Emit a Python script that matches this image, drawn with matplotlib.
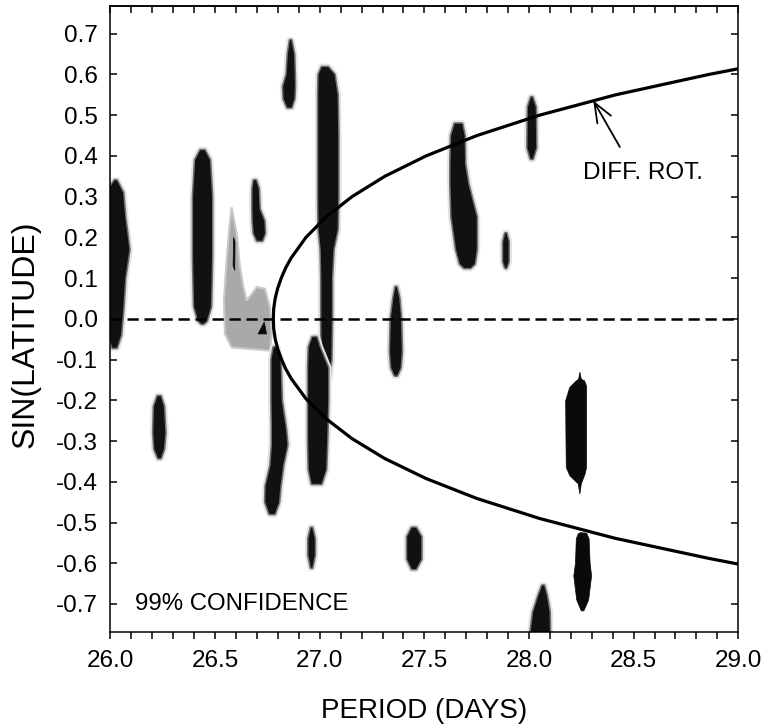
import matplotlib
matplotlib.use("Agg")
import matplotlib.pyplot as plt
from matplotlib.ticker import MultipleLocator

plt.rcParams['font.family'] = ['Liberation Sans', 'DejaVu Sans']

# differential rotation curve: period at each sin(latitude)
rot_period_upper = [26.778, 26.780, 26.787, 26.799, 26.816, 26.837, 26.864, 26.934, 27.030,
                    27.154, 27.311, 27.508, 27.751, 28.050, 28.414, 28.859, 29.0]
rot_sinlat_upper = [0.0, 0.025, 0.05, 0.075, 0.10, 0.125, 0.15, 0.20, 0.25,
                    0.30, 0.35, 0.40, 0.45, 0.50, 0.55, 0.60, 0.614]
rot_period_lower = [26.778, 26.780, 26.787, 26.799, 26.816, 26.837, 26.864, 26.934, 27.030,
                    27.154, 27.311, 27.508, 27.751, 28.050, 28.414, 28.859, 29.0]
rot_sinlat_lower = [0.0, -0.0245, -0.049, -0.0735, -0.098, -0.1225, -0.147, -0.196, -0.245,
                    -0.294, -0.343, -0.392, -0.441, -0.490, -0.539, -0.588, -0.602]

# soft confidence blobs: rows of (sin latitude, left period, right period)
blob_26_00 = [(0.340, 26.02, 26.03), (0.31, 25.98, 26.06), (0.25, 25.97, 26.07),
              (0.17, 25.97, 26.09), (0.10, 25.97, 26.07), (0.02, 25.98, 26.06),
              (-0.04, 25.99, 26.05), (-0.071, 26.01, 26.03)]
blob_26_44 = [(0.414, 26.43, 26.45), (0.39, 26.405, 26.475), (0.30, 26.395, 26.485),
              (0.15, 26.395, 26.485), (0.03, 26.40, 26.48), (-0.005, 26.42, 26.46),
              (-0.012, 26.435, 26.445)]
blob_26_70 = [(0.340, 26.685, 26.695), (0.32, 26.679, 26.708), (0.27, 26.679, 26.712),
              (0.24, 26.680, 26.735), (0.21, 26.685, 26.738), (0.192, 26.700, 26.725)]
blob_26_86 = [(0.684, 26.858, 26.864), (0.65, 26.848, 26.877), (0.60, 26.842, 26.880),
              (0.57, 26.825, 26.881), (0.54, 26.828, 26.878), (0.519, 26.845, 26.865)]
blob_27_04 = [(0.618, 27.01, 27.04), (0.60, 26.995, 27.07), (0.55, 26.993, 27.085),
              (0.45, 26.993, 27.088), (0.30, 26.993, 27.088), (0.22, 26.995, 27.085),
              (0.17, 27.005, 27.065), (0.10, 27.008, 27.058), (0.0, 27.008, 27.058),
              (-0.10, 27.010, 27.055), (-0.143, 27.02, 27.045)]
blob_26_99 = [(-0.045, 26.965, 26.985), (-0.07, 26.948, 27.00), (-0.12, 26.945, 27.04),
              (-0.20, 26.945, 27.040), (-0.30, 26.945, 27.035), (-0.37, 26.948, 27.03),
              (-0.405, 26.962, 27.008)]
blob_26_79 = [(-0.07, 26.780, 26.795), (-0.10, 26.770, 26.812), (-0.20, 26.770, 26.818),
              (-0.27, 26.772, 26.838), (-0.31, 26.772, 26.845), (-0.36, 26.765, 26.825),
              (-0.41, 26.742, 26.812), (-0.45, 26.740, 26.805), (-0.479, 26.760, 26.785)]
blob_26_23 = [(-0.190, 26.225, 26.240), (-0.215, 26.208, 26.255), (-0.28, 26.205, 26.262),
              (-0.32, 26.210, 26.255), (-0.342, 26.228, 26.240)]
blob_26_96 = [(-0.513, 26.958, 26.964), (-0.54, 26.946, 26.976), (-0.58, 26.946, 26.976),
              (-0.611, 26.958, 26.964)]
blob_27_45 = [(-0.513, 27.44, 27.46), (-0.535, 27.418, 27.485), (-0.59, 27.418, 27.485),
              (-0.614, 27.44, 27.46)]
blob_27_37 = [(0.078, 27.362, 27.368), (0.05, 27.352, 27.380), (0.0, 27.340, 27.388),
              (-0.08, 27.336, 27.392), (-0.12, 27.342, 27.386), (-0.139, 27.358, 27.370)]
blob_27_68 = [(0.479, 27.645, 27.68), (0.45, 27.628, 27.692), (0.38, 27.625, 27.694),
              (0.33, 27.625, 27.71), (0.25, 27.630, 27.750), (0.17, 27.652, 27.750),
              (0.135, 27.670, 27.740), (0.125, 27.69, 27.72)]
blob_27_89 = [(0.21, 27.887, 27.892), (0.19, 27.877, 27.902), (0.14, 27.877, 27.902),
              (0.125, 27.887, 27.892)]
blob_28_01 = [(0.544, 28.010, 28.016), (0.52, 27.995, 28.032), (0.42, 27.993, 28.034),
              (0.393, 28.008, 28.018)]
blob_28_06 = [(-0.655, 28.063, 28.072), (-0.68, 28.045, 28.085), (-0.72, 28.020, 28.098),
              (-0.78, 28.005, 28.100)]
soft_blobs = [blob_26_00, blob_26_44, blob_26_70, blob_26_86, blob_27_04, blob_26_99,
              blob_26_79, blob_26_23, blob_26_96, blob_27_45, blob_27_37, blob_27_68,
              blob_27_89, blob_28_01, blob_28_06]

# grey (lower significance) patch, outline as (period, sin latitude)
grey_period = [26.579, 26.603, 26.619, 26.635, 26.651, 26.675, 26.699, 26.738, 26.762,
               26.770, 26.762, 26.579, 26.547, 26.542, 26.555, 26.568]
grey_sinlat = [0.274, 0.209, 0.127, 0.078, 0.045, 0.061, 0.078, 0.074, 0.029,
               -0.037, -0.078, -0.070, -0.037, 0.045, 0.143, 0.225]

# sharp-edged black regions, outline as (period, sin latitude)
sharp_upper_period = [28.243, 28.250, 28.265, 28.275, 28.275, 28.268, 28.250, 28.243,
                      28.235, 28.195, 28.178, 28.175, 28.195, 28.227, 28.237]
sharp_upper_sinlat = [-0.131, -0.148, -0.152, -0.165, -0.365, -0.381, -0.405, -0.430,
                      -0.405, -0.385, -0.365, -0.201, -0.168, -0.152, -0.148]
sharp_lower_period = [28.245, 28.275, 28.287, 28.292, 28.299, 28.285, 28.262, 28.250,
                      28.228, 28.214, 28.222, 28.226, 28.235]
sharp_lower_sinlat = [-0.525, -0.526, -0.540, -0.600, -0.631, -0.690, -0.717, -0.717,
                      -0.690, -0.631, -0.600, -0.540, -0.528]
sliver_period = [26.588, 26.595, 26.594, 26.586]
sliver_sinlat = [0.200, 0.190, 0.119, 0.130]
tri_period = [26.705, 26.735, 26.746]
tri_sinlat = [-0.037, -0.008, -0.037]

fig = plt.figure(figsize=(7.63, 7.26), dpi=100)
ax = fig.add_axes([0.1448, 0.1299, 0.8228, 0.8618])

ax.fill(grey_period, grey_sinlat, color='#a9a9a9', lw=1.5, ec='#c8c8c8', zorder=1)

for rows in soft_blobs:
    ys = [r[0] for r in rows] + [r[0] for r in rows[::-1]]
    xs = [r[1] for r in rows] + [r[2] for r in rows[::-1]]
    ax.fill(xs, ys, fc='none', ec='#e4e4e4', lw=5, joinstyle='round', zorder=2)
    ax.fill(xs, ys, fc='#202020', ec='#707070', lw=2.2, joinstyle='round', zorder=2)
    ax.fill(xs, ys, fc='#111111', ec='none', zorder=2)

for px, py in [(sharp_upper_period, sharp_upper_sinlat),
               (sharp_lower_period, sharp_lower_sinlat),
               (sliver_period, sliver_sinlat), (tri_period, tri_sinlat)]:
    ax.fill(px, py, color='#0a0a0a', lw=0.5, zorder=3)

ax.axhline(0, color='black', lw=1.8, linestyle=(0, (4.5, 2.3)), zorder=4)
ax.plot(rot_period_upper[::-1] + rot_period_lower[1:],
        rot_sinlat_upper[::-1] + rot_sinlat_lower[1:],
        color='black', lw=2.3, solid_joinstyle='round', zorder=5)

ax.annotate('', xy=(28.307, 0.536), xytext=(28.434, 0.422),
            arrowprops=dict(arrowstyle='->,head_length=0.7,head_width=0.28',
                            lw=1.3, color='black', mutation_scale=20, shrinkA=0, shrinkB=0),
            zorder=6)
ax.text(28.258, 0.344, 'DIFF. ROT.', fontsize=17.5, va='baseline', ha='left')
ax.text(26.117, -0.714, '99% CONFIDENCE', fontsize=17.3, va='baseline', ha='left')

ax.set_xlim(26.0, 29.0)
ax.set_ylim(-0.768, 0.768)
ax.xaxis.set_minor_locator(MultipleLocator(0.1))
ax.set_xticks([26.0, 26.5, 27.0, 27.5, 28.0, 28.5, 29.0])
ax.set_xticklabels(['26.0', '26.5', '27.0', '27.5', '28.0', '28.5', '29.0'])
yt = [-0.7, -0.6, -0.5, -0.4, -0.3, -0.2, -0.1, 0.0, 0.1, 0.2, 0.3, 0.4, 0.5, 0.6, 0.7]
ax.set_yticks(yt)
ax.set_yticklabels(['%.1f' % v for v in yt])

ax.tick_params(axis='x', which='both', direction='out', length=5, width=1.1,
               labelsize=17.5, pad=8)
ax.tick_params(axis='y', which='both', direction='in', length=5, width=1.1,
               right=True, labelsize=17.5, pad=9)
top = ax.secondary_xaxis('top')
top.xaxis.set_major_locator(MultipleLocator(0.1))
top.tick_params(direction='in', length=5, width=1.1, labeltop=False)
for s in list(ax.spines.values()) + list(top.spines.values()):
    s.set_linewidth(1.1)

ax.set_xlabel('PERIOD (DAYS)', fontsize=20, labelpad=19)
ax.set_ylabel('SIN(LATITUDE)', fontsize=23, labelpad=9)
ax.yaxis.set_label_coords(-0.112, 0.475)

fig.savefig('out.png', dpi=100)
